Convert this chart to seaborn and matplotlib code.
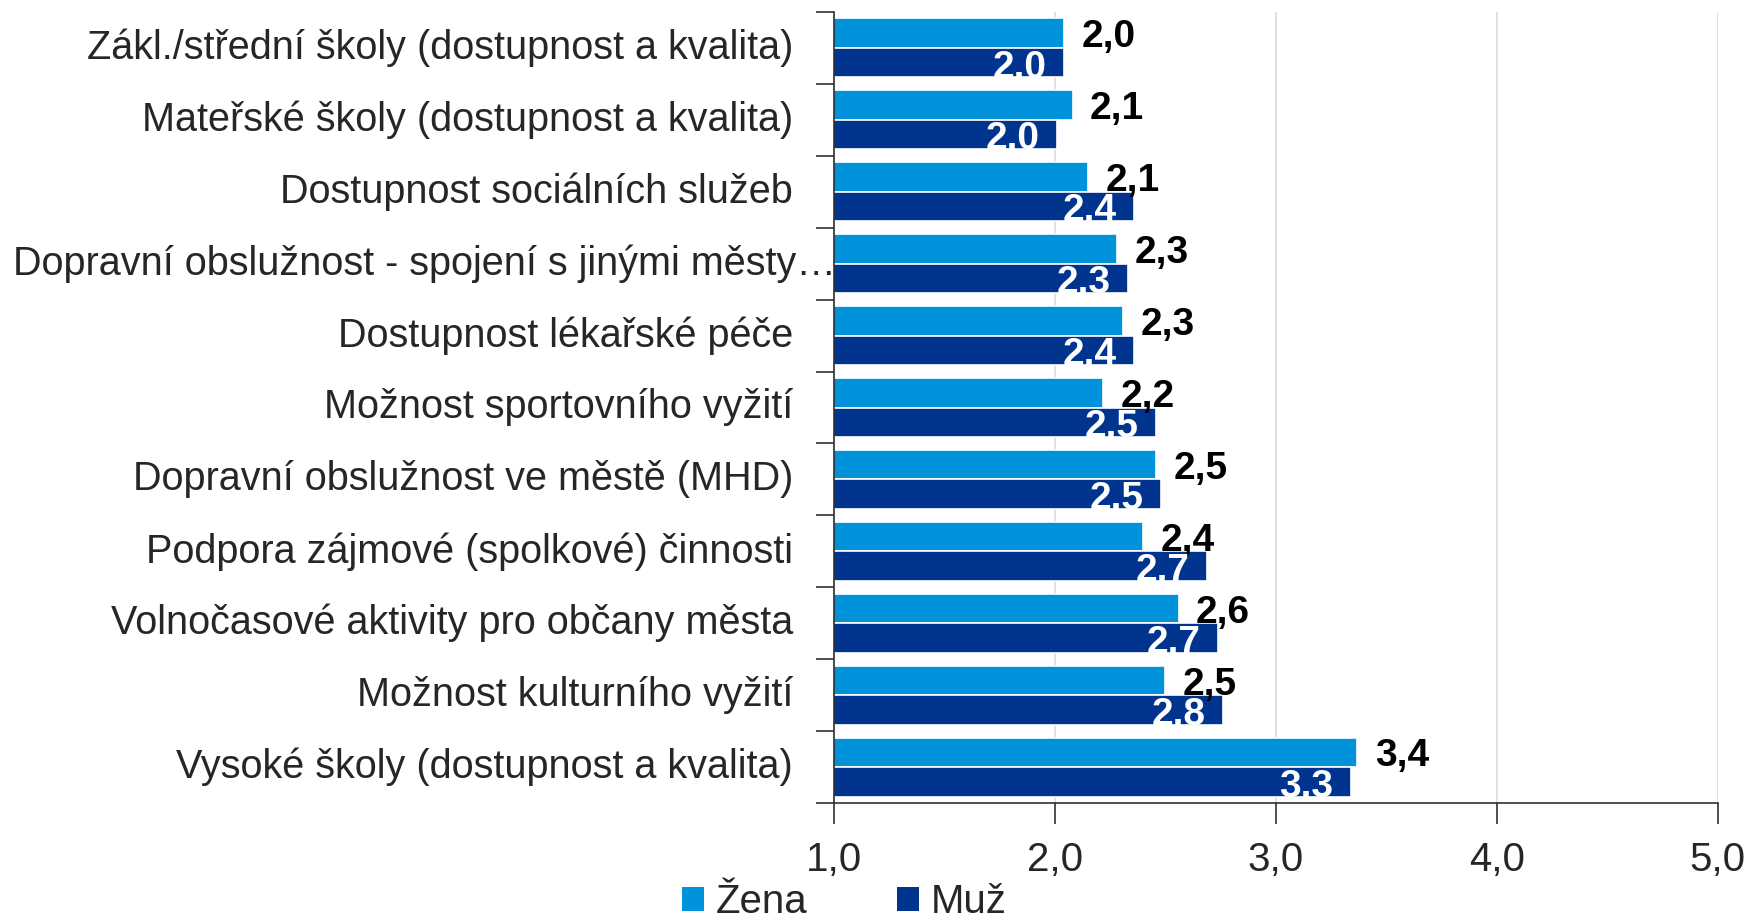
import pandas as pd
import matplotlib.pyplot as plt
import seaborn as sns
from matplotlib.patches import Patch
from matplotlib.transforms import blended_transform_factory

# Data
kategorie = [
    "Zákl./střední školy (dostupnost a kvalita)",
    "Mateřské školy (dostupnost a kvalita)",
    "Dostupnost sociálních služeb",
    "Dopravní obslužnost - spojení s jinými městy…",
    "Dostupnost lékařské péče",
    "Možnost sportovního vyžití",
    "Dopravní obslužnost ve městě (MHD)",
    "Podpora zájmové (spolkové) činnosti",
    "Volnočasové aktivity pro občany města",
    "Možnost kulturního vyžití",
    "Vysoké školy (dostupnost a kvalita)",
]
zena = [2.04, 2.08, 2.15, 2.28, 2.31, 2.22, 2.46, 2.40, 2.56, 2.50, 3.37]
muz = [2.04, 2.01, 2.36, 2.33, 2.36, 2.46, 2.48, 2.69, 2.74, 2.76, 3.34]
skupiny = ["Žena", "Muž"]
barvy = ["#0092DA", "#00348F"]
x_ticks = [1, 2, 3, 4, 5]

FONT = ["Liberation Sans Narrow", "Liberation Sans", "DejaVu Sans"]
W, H = 1747, 918

df = pd.DataFrame({
    "kategorie": kategorie * 2,
    "pohlavi": [skupiny[0]] * len(zena) + [skupiny[1]] * len(muz),
    "hodnota": zena + muz,
})

sns.set_style("white")
plt.rcParams["font.family"] = FONT

fig = plt.figure(figsize=(W / 100, H / 100), dpi=100)
ax = fig.add_axes([834 / W, 1 - 803 / H, (1717.5 - 834) / W, (803 - 12) / H])

sns.barplot(data=df, y="kategorie", x="hodnota", hue="pohlavi",
            hue_order=skupiny, palette=barvy, orient="h", width=0.82,
            saturation=1, errorbar=None, edgecolor="white", linewidth=1.2, ax=ax)
ax.legend_.remove()

ax.set_xlim(1, 5)
ax.set_ylim(len(kategorie) - 0.5, -0.5)
ax.set_xticks(x_ticks)
ax.set_xticklabels([f"{v:.1f}".replace(".", ",") for v in x_ticks], fontsize=29)
ax.tick_params(axis="x", direction="out", length=15, width=1.2, color="#303030",
               pad=12, bottom=True)
ax.xaxis.grid(True, color="#D9D9D9", linewidth=1.2)
ax.set_axisbelow(True)

# category ticks on the boundaries
ax.set_yticks([])
ax.set_yticks([i - 0.5 for i in range(len(kategorie) + 1)], minor=True)
ax.tick_params(axis="y", which="minor", direction="out", length=13, width=1.2,
               color="#303030", left=True)
ax.set_xlabel("")
ax.set_ylabel("")

for s in ["top", "right"]:
    ax.spines[s].set_visible(False)
for s in ["left", "bottom"]:
    ax.spines[s].set_color("#303030")
    ax.spines[s].set_linewidth(1.2)

# category labels
tr = blended_transform_factory(fig.transFigure, ax.transData)
for i, k in enumerate(kategorie):
    if k.endswith("…"):
        ax.text(13 / W, i, k, transform=tr, ha="left", va="center", fontsize=28.5)
    else:
        ax.text(793 / W, i, k, transform=tr, ha="right", va="center", fontsize=28.5)

# value labels
for bar in ax.containers[0]:
    v = bar.get_width()
    yc = bar.get_y() + bar.get_height() / 2
    ax.annotate(f"{v:.1f}".replace(".", ","), xy=(v, yc), xytext=(12.6, -3),
                textcoords="offset points", ha="left", va="center",
                fontsize=28, fontweight="bold", color="black", annotation_clip=False)
for bar in ax.containers[1]:
    v = bar.get_width()
    yc = bar.get_y() + bar.get_height() / 2
    ax.annotate(f"{v:.1f}", xy=(v, yc), xytext=(-12.6, -3.5),
                textcoords="offset points", ha="right", va="center",
                fontsize=28, fontweight="bold", color="white", annotation_clip=False)

handles = [Patch(facecolor=c, edgecolor="none") for c in barvy]
fig.legend(handles, skupiny, loc="center left", bbox_to_anchor=(682 / W, 1 - 902 / H),
           ncol=2, frameon=False, fontsize=29, handlelength=0.55, handleheight=0.55,
           handletextpad=0.3, columnspacing=2.2, borderpad=0, borderaxespad=0)

fig.savefig("out.png", dpi=100)
plt.close(fig)
